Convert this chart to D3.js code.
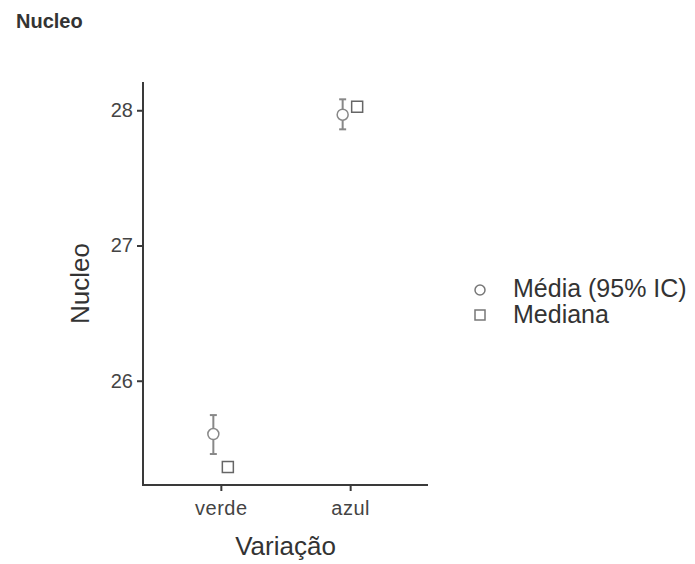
<!DOCTYPE html>
<html>
<head>
<meta charset="utf-8">
<script src="https://cdn.jsdelivr.net/npm/d3@7"></script>
<style>
  body { margin: 0; background: #fff; }
  text { font-family: "Liberation Sans", Arial, sans-serif; }
</style>
</head>
<body>
<div id="chart"></div>
<script>
// values
const categories = ["verde", "azul"];
const means = [25.606, 27.967];
const ciLower = [25.458, 27.859];
const ciUpper = [25.746, 28.081];
const medians = [25.362, 28.026];
const yTicks = [26, 27, 28];
const legendLabels = ["Média (95% IC)", "Mediana"];

const w = 695;
const h = 564;
const margin = {top: 82, right: 267, bottom: 79, left: 143};

const svg = d3.select("div#chart")
  .append("svg")
    .attr("width", w)
    .attr("height", h);

const xScale = d3.scalePoint()
    .domain(categories)
    .range([margin.left, w - margin.right])
    .padding(0.602);

const yScale = d3.scaleLinear()
    .domain([25.229, 28.209])
    .range([h - margin.bottom, margin.top]);

// title
svg.append("text")
  .attr("x", 16)
  .attr("y", 28)
  .attr("font-size", 20)
  .attr("font-weight", "bold")
  .attr("fill", "#333")
  .text("Nucleo");

// axes
const xAxis = d3.axisBottom(xScale).tickSize(6).tickSizeOuter(0);
const yAxis = d3.axisLeft(yScale).tickValues(yTicks).tickFormat(d3.format("d")).tickSize(6).tickSizeOuter(0);

const gx = svg.append("g")
    .attr("transform", `translate(0, ${h - margin.bottom})`)
    .call(xAxis);
const gy = svg.append("g")
    .attr("transform", `translate(${margin.left}, 0)`)
    .call(yAxis);

[gx, gy].forEach(g => {
  g.select(".domain").attr("stroke", "#3a3a3a").attr("stroke-width", 2);
  g.selectAll(".tick line").attr("stroke", "#3a3a3a").attr("stroke-width", 2);
  g.selectAll(".tick text")
    .attr("font-family", "Liberation Sans, Arial, sans-serif")
    .attr("font-size", 20)
    .attr("fill", "#444");
});
// make axes meet at the corner
gx.select(".domain").attr("d", `M${margin.left - 1},0H${w - margin.right}`);
gy.select(".domain").attr("d", `M0,${margin.top}V${h - margin.bottom + 1}`);
gx.selectAll(".tick text").attr("dy", "1.05em").attr("letter-spacing", "0.5px");
gy.selectAll(".tick text").attr("x", -10);

// axis labels
svg.append("text")
  .attr("text-anchor", "middle")
  .attr("x", (margin.left + w - margin.right) / 2)
  .attr("y", 555)
  .attr("font-size", 26)
  .attr("fill", "#333")
  .text("Variação");

svg.append("text")
  .attr("text-anchor", "middle")
  .attr("transform", `translate(89, ${(margin.top + h - margin.bottom) / 2}) rotate(-90)`)
  .attr("font-size", 26)
  .attr("fill", "#333")
  .text("Nucleo");

// points
const plot = svg.append("g");
const dodge = 7.5;
const capW = 3.5;

categories.forEach((c, i) => {
  const cx = xScale(c) - dodge;
  const g = plot.append("g");
  g.append("line")
    .attr("x1", cx).attr("x2", cx)
    .attr("y1", yScale(ciLower[i])).attr("y2", yScale(ciUpper[i]))
    .attr("stroke", "#888").attr("stroke-width", 2);
  [ciLower[i], ciUpper[i]].forEach(v => {
    g.append("line")
      .attr("x1", cx - capW).attr("x2", cx + capW)
      .attr("y1", yScale(v)).attr("y2", yScale(v))
      .attr("stroke", "#888").attr("stroke-width", 2);
  });
  g.append("circle")
    .attr("cx", cx)
    .attr("cy", yScale(means[i]))
    .attr("r", 5.5)
    .attr("fill", "#fff")
    .attr("stroke", "#888")
    .attr("stroke-width", 1.5);
  g.append("rect")
    .attr("x", xScale(c) + 7 - 5.5)
    .attr("y", yScale(medians[i]) - 5.5)
    .attr("width", 11)
    .attr("height", 11)
    .attr("fill", "#fff")
    .attr("stroke", "#666")
    .attr("stroke-width", 1.5);
});

// legend
const legend = svg.append("g");
legend.append("circle")
  .attr("cx", 480).attr("cy", 290).attr("r", 5)
  .attr("fill", "#fff").attr("stroke", "#777").attr("stroke-width", 1.5);
legend.append("rect")
  .attr("x", 475).attr("y", 310).attr("width", 10).attr("height", 10)
  .attr("fill", "#fff").attr("stroke", "#777").attr("stroke-width", 1.5);
legend.selectAll("text.leg")
  .data(legendLabels)
  .enter().append("text")
    .attr("class", "leg")
    .attr("x", 513)
    .attr("y", (d, i) => 297 + i * 26)
    .attr("font-size", 25)
    .attr("fill", "#333")
    .text(d => d);
</script>
</body>
</html>
